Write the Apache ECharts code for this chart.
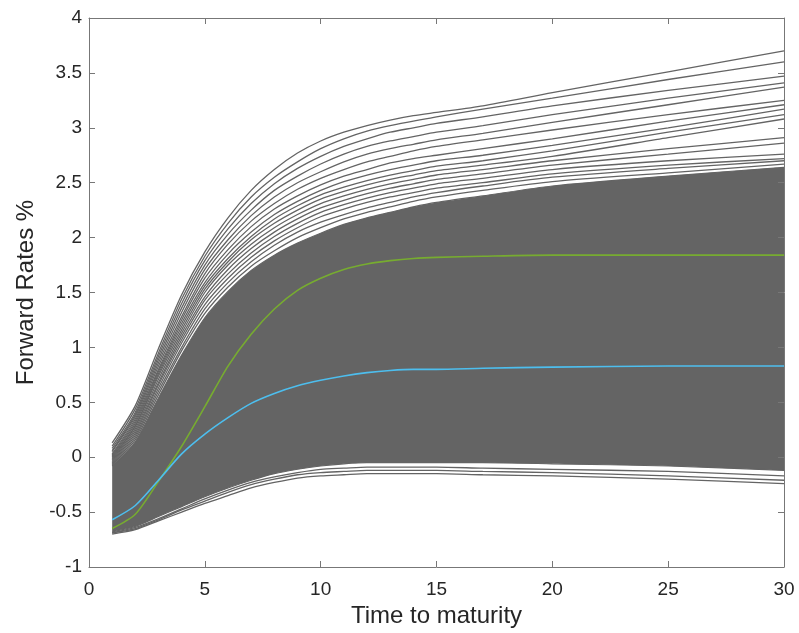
<!DOCTYPE html>
<html>
<head>
<meta charset="utf-8">
<script src="https://cdn.jsdelivr.net/npm/echarts@6/dist/echarts.min.js"></script>
<style>
html,body{margin:0;padding:0;background:#fff;}
#chart{width:799px;height:633px;}
</style>
</head>
<body>
<div id="chart"></div>
<script>
// Time to maturity (years) at which each curve is sampled
const maturities = [1,2,3,4,5,6,7,8,9,10,11,12,13,14,15,17,20,25,30];

// Upper scenario curves that stand out above the dense cloud (top to bottom)
const upper01 = [0.13,0.47,0.99,1.48,1.87,2.18,2.43,2.62,2.77,2.88,2.96,3.02,3.07,3.11,3.14,3.20,3.32,3.51,3.70];
const upper02 = [0.10,0.44,0.95,1.44,1.83,2.13,2.37,2.55,2.69,2.81,2.90,2.97,3.02,3.06,3.10,3.17,3.27,3.44,3.60];
const upper03 = [0.08,0.41,0.92,1.40,1.79,2.08,2.31,2.49,2.63,2.74,2.83,2.90,2.96,3.00,3.04,3.10,3.20,3.34,3.47];
const upper04 = [0.06,0.39,0.89,1.36,1.75,2.03,2.25,2.43,2.56,2.67,2.76,2.83,2.88,2.92,2.96,3.02,3.12,3.27,3.41];
const upper05 = [0.05,0.37,0.86,1.32,1.71,1.98,2.20,2.37,2.50,2.60,2.69,2.76,2.81,2.85,2.89,2.95,3.05,3.21,3.37];
const upper06 = [0.03,0.35,0.83,1.28,1.67,1.94,2.15,2.31,2.44,2.54,2.62,2.69,2.74,2.79,2.83,2.89,2.98,3.12,3.25];
const upper07 = [0.02,0.33,0.80,1.25,1.63,1.89,2.10,2.26,2.38,2.48,2.56,2.62,2.68,2.72,2.75,2.81,2.90,3.06,3.21];
const upper08 = [0.01,0.31,0.78,1.22,1.59,1.85,2.05,2.21,2.33,2.43,2.51,2.57,2.62,2.66,2.70,2.75,2.84,3.00,3.17];
const upper09 = [0.00,0.29,0.76,1.19,1.56,1.81,2.01,2.17,2.29,2.39,2.46,2.52,2.57,2.61,2.65,2.70,2.79,2.96,3.12];
const upper10 = [-0.01,0.28,0.74,1.16,1.53,1.78,1.98,2.13,2.25,2.35,2.42,2.48,2.53,2.57,2.61,2.66,2.74,2.91,3.08];
const upper11 = [-0.02,0.26,0.71,1.13,1.50,1.75,1.94,2.09,2.21,2.31,2.38,2.44,2.49,2.53,2.57,2.62,2.70,2.81,2.91];
const upper12 = [-0.03,0.24,0.68,1.10,1.46,1.71,1.90,2.05,2.17,2.27,2.34,2.40,2.45,2.49,2.53,2.58,2.66,2.76,2.86];
const upper13 = [-0.04,0.22,0.66,1.07,1.43,1.67,1.86,2.01,2.13,2.23,2.30,2.36,2.41,2.45,2.49,2.54,2.62,2.70,2.76];
const upper14 = [-0.05,0.20,0.63,1.04,1.39,1.63,1.82,1.97,2.09,2.19,2.26,2.32,2.37,2.41,2.45,2.50,2.58,2.66,2.72];
const upper15 = [-0.06,0.18,0.60,1.00,1.35,1.59,1.78,1.93,2.05,2.14,2.21,2.27,2.32,2.37,2.41,2.47,2.55,2.63,2.70];
const upper16 = [-0.07,0.16,0.57,0.97,1.31,1.55,1.74,1.88,2.00,2.09,2.17,2.23,2.28,2.33,2.37,2.43,2.51,2.59,2.67];

// Edges of the dense cloud of scenario curves
const cloudTop    = [-0.08,0.14,0.54,0.93,1.27,1.51,1.70,1.84,1.95,2.04,2.12,2.18,2.23,2.28,2.32,2.38,2.47,2.56,2.64];
const cloudBottom = [-0.68,-0.63,-0.54,-0.45,-0.36,-0.28,-0.21,-0.15,-0.11,-0.08,-0.06,-0.05,-0.05,-0.05,-0.05,-0.05,-0.06,-0.08,-0.12];

// Lower scenario curves below the dense cloud
const lower01 = [-0.70,-0.66,-0.58,-0.50,-0.42,-0.35,-0.28,-0.23,-0.19,-0.17,-0.16,-0.15,-0.15,-0.15,-0.15,-0.16,-0.17,-0.20,-0.24];
const lower02 = [-0.69,-0.65,-0.57,-0.48,-0.40,-0.32,-0.25,-0.20,-0.16,-0.14,-0.13,-0.12,-0.12,-0.12,-0.12,-0.13,-0.14,-0.17,-0.21];
const lower03 = [-0.69,-0.64,-0.56,-0.47,-0.38,-0.30,-0.23,-0.18,-0.14,-0.11,-0.10,-0.09,-0.09,-0.09,-0.09,-0.10,-0.11,-0.13,-0.17];

// Highlighted curves
const greenCurve = [-0.65,-0.52,-0.22,0.10,0.46,0.83,1.12,1.35,1.52,1.63,1.71,1.76,1.79,1.81,1.82,1.83,1.84,1.84,1.84];
const blueCurve  = [-0.57,-0.44,-0.21,0.03,0.21,0.36,0.49,0.58,0.65,0.70,0.74,0.77,0.79,0.80,0.80,0.81,0.82,0.83,0.83];

const xTicks = [0,5,10,15,20,25,30];
const yTicks = [-1,-0.5,0,0.5,1,1.5,2,2.5,3,3.5,4];

const GRAY = '#646464';
const AXIS = '#777777';
const FONT = 'Liberation Sans, Arial, sans-serif';
const pairs = arr => maturities.map((x, i) => [x, arr[i]]);

const upperSet = [upper01,upper02,upper03,upper04,upper05,upper06,upper07,upper08,
                  upper09,upper10,upper11,upper12,upper13,upper14,upper15,upper16];
const lowerSet = [lower01,lower02,lower03];

const series = [];
// dense cloud: gray fill from the cloud top down, then white fill from the cloud bottom down (slightly deeper)
series.push({
  type:'line', data: pairs(cloudTop), symbol:'none', smooth:0.25,
  lineStyle:{width:1.2,color:GRAY}, areaStyle:{color:GRAY, opacity:1, origin:-0.70},
  silent:true, z:1
});
series.push({
  type:'line', data: pairs(cloudBottom), symbol:'none', smooth:0.25,
  lineStyle:{width:1.2,color:GRAY}, areaStyle:{color:'#ffffff', opacity:1, origin:-0.73},
  silent:true, z:2
});
upperSet.forEach(a => series.push({
  type:'line', data: pairs(a), symbol:'none', smooth:0.25,
  lineStyle:{width:1.3, color:GRAY}, silent:true, z:3
}));
lowerSet.forEach(a => series.push({
  type:'line', data: pairs(a), symbol:'none', smooth:0.25,
  lineStyle:{width:1.3, color:GRAY}, silent:true, z:3
}));
series.push({
  type:'line', data: pairs(greenCurve), symbol:'none', smooth:0.25,
  lineStyle:{width:1.6, color:'#77AC30'}, silent:true, z:4
});
series.push({
  type:'line', data: pairs(blueCurve), symbol:'none', smooth:0.25,
  lineStyle:{width:1.6, color:'#4DBEEE'}, silent:true, z:4
});

const axisCommon = {
  z:10,
  axisLine:{show:true, onZero:false, lineStyle:{color:AXIS, width:1}},
  axisTick:{show:true, inside:true, length:6, lineStyle:{color:AXIS, width:1}},
  splitLine:{show:false}
};

const chart = echarts.init(document.getElementById('chart'), null, {renderer:'canvas'});
chart.setOption({
  animation:false,
  backgroundColor:'#ffffff',
  grid:{left:89, right:15, top:18, bottom:66},
  xAxis:[
    Object.assign({
      type:'value', min:xTicks[0], max:xTicks[xTicks.length-1], interval:5,
      name:'Time to maturity', nameLocation:'middle', nameGap:33,
      nameTextStyle:{fontFamily:FONT, fontSize:24, color:'#262626'},
      axisLabel:{fontFamily:FONT, fontSize:19, color:'#262626', margin:13}
    }, axisCommon),
    Object.assign({
      type:'value', position:'top', min:xTicks[0], max:xTicks[xTicks.length-1], interval:5,
      axisLabel:{show:false}
    }, axisCommon)
  ],
  yAxis:[
    Object.assign({
      type:'value', min:yTicks[0], max:yTicks[yTicks.length-1], interval:0.5,
      name:'Forward Rates %', nameLocation:'middle', nameGap:41,
      nameTextStyle:{fontFamily:FONT, fontSize:24, color:'#262626'},
      axisLabel:{fontFamily:FONT, fontSize:19, color:'#262626', margin:7}
    }, axisCommon),
    Object.assign({
      type:'value', position:'right', min:yTicks[0], max:yTicks[yTicks.length-1], interval:0.5,
      axisLabel:{show:false}
    }, axisCommon)
  ],
  series: series
});
</script>
</body>
</html>
